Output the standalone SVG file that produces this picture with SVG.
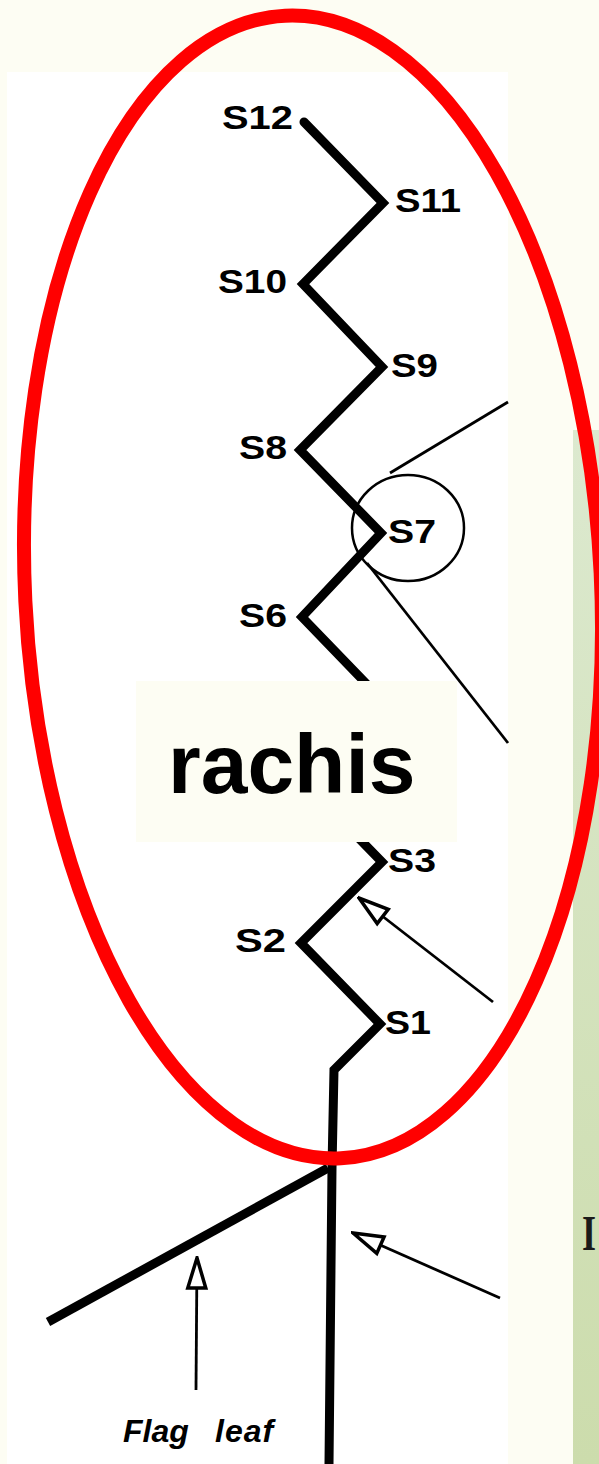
<svg xmlns="http://www.w3.org/2000/svg" width="599" height="1464" viewBox="0 0 599 1464">
<defs>
<linearGradient id="green" x1="0" y1="0" x2="0" y2="1">
<stop offset="0" stop-color="#dce9cf"/>
<stop offset="1" stop-color="#ccdcac"/>
</linearGradient>
<marker id="openhead" viewBox="-34 -13 36 26" refX="0" refY="0" markerWidth="36" markerHeight="26" markerUnits="userSpaceOnUse" orient="auto">
<path d="M0,0 L-30,-9 L-30,9 Z" fill="#ffffff" stroke="#000000" stroke-width="3.5" stroke-linejoin="miter"/>
</marker>
</defs>
<style>
.lbl{font-family:"Liberation Sans",Arial,sans-serif;font-weight:bold;font-size:33px;fill:#000}
.thick{fill:none;stroke:#000;stroke-width:9;stroke-linejoin:miter;stroke-linecap:round}
.thin{fill:none;stroke:#000;stroke-width:2.8}
.arrow{fill:none;stroke:#000;stroke-width:2.8;marker-end:url(#openhead)}
</style>
<rect id="background" x="0" y="0" width="599" height="1464" fill="#fdfdf3"/>
<rect id="figure" x="7" y="72" width="501" height="1392" fill="#ffffff"/>
<rect id="side-panel" x="573" y="430" width="26" height="1034" fill="url(#green)"/>
<g id="side-text"><text x="582" y="1250" font-family="'Liberation Serif','Times New Roman',serif" font-weight="bold" font-size="50" fill="#1a1a1a" textLength="14" lengthAdjust="spacingAndGlyphs">I</text></g>

<g id="rachis">
<polyline class="thick" points="304,122 383,203 303,284 382,367 300,450 381,533 302,617 382,700 302,780 382,862 301,943 380,1024 334,1070 332,1168 329,1464"/>
</g>
<g id="flag-leaf">
<line x1="328" y1="1168" x2="48" y2="1322" stroke="#000" stroke-width="9"/>
</g>
<g id="s7-circle">
<ellipse cx="408" cy="528" rx="56" ry="53" fill="none" stroke="#000" stroke-width="2.5"/>
<line class="thin" x1="390" y1="473" x2="508" y2="402"/>
<line class="thin" x1="367" y1="563" x2="508" y2="743"/>
</g>

<g id="S12"><text class="lbl" x="222" y="129" textLength="71" lengthAdjust="spacingAndGlyphs">S12</text></g>
<g id="S11"><text class="lbl" x="395" y="212" textLength="66" lengthAdjust="spacingAndGlyphs">S11</text></g>
<g id="S10"><text class="lbl" x="218" y="293" textLength="69" lengthAdjust="spacingAndGlyphs">S10</text></g>
<g id="S9"><text class="lbl" x="391" y="377" textLength="47" lengthAdjust="spacingAndGlyphs">S9</text></g>
<g id="S8"><text class="lbl" x="239" y="459" textLength="48" lengthAdjust="spacingAndGlyphs">S8</text></g>
<g id="S7"><text class="lbl" x="388" y="543" textLength="48" lengthAdjust="spacingAndGlyphs">S7</text></g>
<g id="S6"><text class="lbl" x="239" y="627" textLength="48" lengthAdjust="spacingAndGlyphs">S6</text></g>
<g id="S3"><text class="lbl" x="388" y="872" textLength="48" lengthAdjust="spacingAndGlyphs">S3</text></g>
<g id="S2"><text class="lbl" x="235" y="952" textLength="51" lengthAdjust="spacingAndGlyphs">S2</text></g>
<g id="S1"><text class="lbl" x="385" y="1034" textLength="46" lengthAdjust="spacingAndGlyphs">S1</text></g>

<g id="connectors">
<line class="arrow" x1="493" y1="1002" x2="359" y2="898"/>
<line class="arrow" x1="500" y1="1298" x2="353" y2="1233"/>
<line class="arrow" x1="196" y1="1390" x2="197" y2="1258"/>
</g>

<g id="flag-leaf-label">
<text font-family="'Liberation Sans',Arial,sans-serif" font-weight="bold" font-style="italic" font-size="32" fill="#000"><tspan x="123" y="1442">Flag </tspan><tspan x="215" y="1442" letter-spacing="1">leaf</tspan></text>
</g>

<g id="rachis-label">
<rect x="136" y="681" width="321" height="161" fill="#fdfdf3"/>
<text x="168" y="793" font-family="'Liberation Sans',Arial,sans-serif" font-weight="bold" font-size="84" fill="#000">rachis</text>
</g>

<g id="highlight">
<ellipse cx="313" cy="587" rx="288" ry="572" fill="none" stroke="#ff0000" stroke-width="14" transform="rotate(-2.8 313 587)"/>
</g>
</svg>
